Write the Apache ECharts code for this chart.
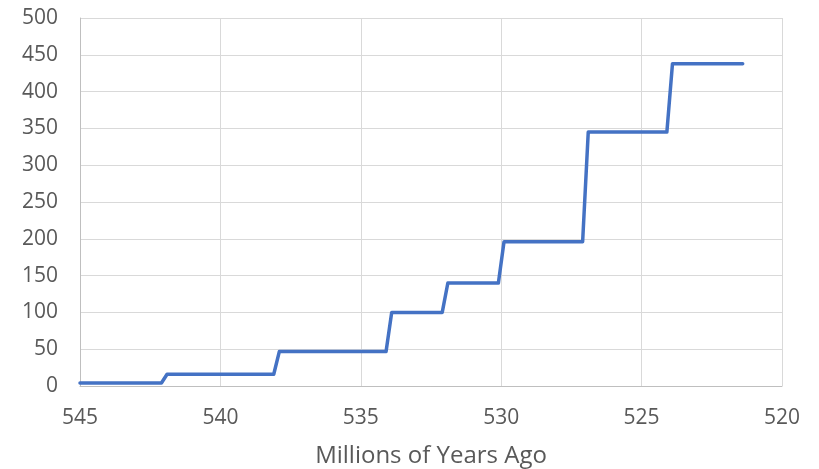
<!DOCTYPE html>
<html><head><meta charset="utf-8">
<script src="https://cdn.jsdelivr.net/npm/echarts@6/dist/echarts.min.js"></script>
<style>html,body{margin:0;padding:0;background:#fff}#c{width:819px;height:469px}</style>
</head><body><div id="c"></div>
<script>
// Step line: millions of years ago (x) vs value (y)
const ages   = [545, 542.1, 541.9, 538.1, 537.9, 534.1, 533.9, 532.1, 531.9, 530.1, 529.9, 527.1, 526.9, 524.1, 523.9, 521.4];
const values = [4,   4,     16,    16,    47,    47,    100,   100,   140,   140,   196,   196,   345,   345,   438,   438];
const xTicks = [545, 540, 535, 530, 525, 520];
const yTicks = [0, 50, 100, 150, 200, 250, 300, 350, 400, 450, 500];
const xTitle = 'Millions of Years Ago';

const chart = echarts.init(document.getElementById('c'));
const font = '"Open Sans", sans-serif';
chart.setOption({
  animation: false,
  grid: {left: 80, right: 37, top: 18, bottom: 83, outerBoundsMode: 'none', containLabel: false},
  xAxis: {
    type: 'value', inverse: true,
    min: xTicks[xTicks.length - 1], max: xTicks[0], interval: 5,
    name: xTitle, nameLocation: 'middle', nameGap: 58,
    nameTextStyle: {color: '#595959', fontSize: 24, fontFamily: font},
    axisLine: {show: true, lineStyle: {color: '#bfbfbf', width: 1}},
    axisTick: {show: false},
    axisLabel: {color: '#595959', fontSize: 21, fontFamily: font, margin: 22},
    splitLine: {show: true, lineStyle: {color: '#d9d9d9', width: 1}}
  },
  yAxis: {
    type: 'value', min: yTicks[0], max: yTicks[yTicks.length - 1], interval: 50,
    axisLine: {show: true, lineStyle: {color: '#bfbfbf', width: 1}},
    axisTick: {show: false},
    axisLabel: {color: '#595959', fontSize: 21, fontFamily: font, margin: 22},
    splitLine: {show: true, lineStyle: {color: '#d9d9d9', width: 1}}
  },
  series: [{
    type: 'line',
    data: ages.map((a, i) => [a, values[i]]),
    showSymbol: false,
    lineStyle: {color: '#4472C4', width: 3.5, cap: 'round', join: 'round'},
    itemStyle: {color: '#4472C4'}
  }]
});
</script></body></html>
